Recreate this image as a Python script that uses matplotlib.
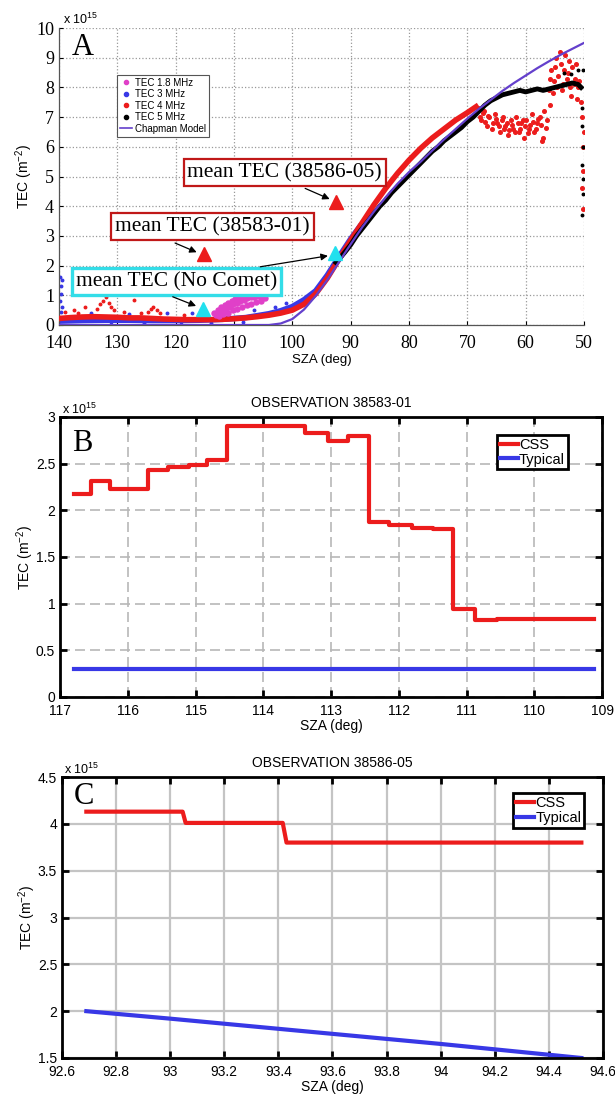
import matplotlib
matplotlib.use('Agg')
import matplotlib.pyplot as plt
from matplotlib.lines import Line2D
from matplotlib.ticker import FormatStrFormatter

plt.rcParams['font.family'] = ['Liberation Sans', 'DejaVu Sans']
plt.rcParams['mathtext.fontset'] = 'custom'
plt.rcParams['mathtext.rm'] = 'Liberation Sans'
plt.rcParams['mathtext.it'] = 'Liberation Sans:italic'
plt.rcParams['mathtext.bf'] = 'Liberation Sans:bold'

# ---------------- panel A data (TEC in units of 1e15 m^-2) ----------------
chap_sza = [50, 52, 54, 56, 58, 60, 62, 64, 66, 68, 70, 72, 74, 76, 78, 80, 82, 84, 86, 88,
            90, 92, 94, 96, 98, 100, 102, 104, 140]
chap_tec = [9.5, 9.3, 9.1, 8.88, 8.65, 8.4, 8.15, 7.88, 7.58, 7.28, 6.95, 6.6, 6.25, 5.88, 5.5,
            5.15, 4.75, 4.3, 3.82, 3.3, 2.72, 2.12, 1.52, 0.98, 0.52, 0.2, 0.05, 0.0, 0.0]

blue_sza = [140, 136, 132, 128, 124, 120, 116, 112, 108, 104, 102, 100, 98, 96, 94, 92, 90, 88.5]
blue_tec = [0.13, 0.15, 0.16, 0.16, 0.15, 0.15, 0.16, 0.19, 0.25, 0.38, 0.48, 0.62, 0.85, 1.15,
            1.68, 2.3, 2.9, 3.3]
blue_out_sza = [139.8, 139.7, 139.6, 139.8, 139.5, 139.7, 139.4, 134.5, 128.0, 121.5, 117.2,
                111.0, 106.5, 103.0, 101.0, 131.0, 125.5, 119.0, 114.0, 108.5]
blue_out_tec = [1.6, 1.3, 1.05, 0.8, 0.6, 0.45, 1.5, 0.4, 0.38, 0.42, 0.4, 0.45, 0.5, 0.6, 0.75,
                0.05, 0.06, 0.05, 0.07, 0.1]

red_sza = [140, 138, 136, 134, 132, 130, 128, 126, 124, 122, 120, 118, 116, 114, 112, 110, 108,
           106, 104, 102, 100, 98, 96, 94, 92, 90, 88, 86, 84, 82, 80, 78, 76, 74, 72, 70, 68.5]
red_tec = [0.22, 0.25, 0.27, 0.28, 0.27, 0.26, 0.24, 0.24, 0.22, 0.2, 0.19, 0.18, 0.18, 0.18,
           0.19, 0.21, 0.24, 0.28, 0.33, 0.4, 0.5, 0.7, 1.05, 1.58, 2.22, 2.85, 3.45, 4.05, 4.6,
           5.1, 5.55, 5.95, 6.3, 6.6, 6.9, 7.15, 7.35]
red_out_sza = [133.5, 133.0, 132.5, 132.0, 131.5, 131.0, 130.5, 127.2, 124.8, 124.3, 123.8,
               123.2, 122.6, 137.5, 135.6, 128.8, 126.0, 118.5, 139.0, 136.8]
red_out_tec = [0.55, 0.7, 0.8, 0.95, 0.75, 0.6, 0.5, 0.85, 0.45, 0.55, 0.6, 0.5, 0.42, 0.5,
               0.6, 0.45, 0.4, 0.35, 0.45, 0.4]
red_cloud_sza = [68.2, 67.6, 67.1, 66.7, 66.2, 65.8, 65.3, 64.9, 64.4, 63.9, 63.5, 63.0, 62.6,
                 62.1, 61.7, 61.2, 60.8, 60.3, 59.9, 59.4, 59.0, 58.5, 58.1, 57.6, 57.2, 56.8,
                 56.3, 55.9,
                 67.9, 67.3, 66.9, 66.4, 65.6, 65.1, 64.6, 64.1, 63.7, 63.2, 62.8, 62.3, 61.9,
                 61.4, 61.0, 60.5, 60.1, 59.6, 59.2, 58.7, 58.3, 57.9, 57.4, 57.0, 56.5]
red_cloud_tec = [7.3, 6.9, 7.2, 6.7, 7.0, 6.6, 7.1, 6.8, 6.5, 7.0, 6.7, 6.4, 6.9, 6.6, 7.0, 6.5,
                 6.8, 6.3, 6.9, 6.6, 7.1, 6.5, 6.8, 7.0, 6.2, 7.2, 6.9, 7.4,
                 7.0, 7.15, 6.85, 7.05, 6.8, 6.95, 6.7, 6.9, 6.6, 6.8, 6.55, 6.75, 6.5, 6.8,
                 6.6, 6.9, 6.7, 6.45, 6.75, 6.85, 6.6, 6.95, 6.75, 6.3, 6.65]
red_high_sza = [56.0, 55.6, 55.2, 54.8, 54.4, 54.0, 53.6, 53.2, 52.8, 52.4, 52.0, 51.6, 51.2,
                50.8, 50.4, 50.2, 50.1, 50.3, 50.15, 50.05,
                55.8, 55.4, 55.0, 54.6, 54.2, 53.8, 53.4, 53.0, 52.6, 52.2, 51.8, 51.4, 51.0,
                50.6]
red_high_tec = [7.9, 8.6, 8.2, 9.0, 8.4, 8.8, 8.1, 9.1, 8.5, 8.0, 8.7, 8.3, 7.6, 8.2, 7.0, 6.0,
                5.2, 4.6, 3.9, 6.5,
                8.3, 7.8, 8.7, 8.0, 9.2, 7.9, 8.6, 8.3, 8.9, 7.7, 8.1, 8.8, 8.0, 7.5]

mag_sza = [113.4, 112.8, 112.2, 111.6, 111.0, 110.4, 109.8, 109.2, 108.6, 108.0, 107.4, 106.8,
           106.2, 105.6, 105.0,
           113.1, 112.5, 111.9, 111.3, 110.7, 110.1, 109.5, 108.9, 108.3, 107.7, 107.1, 106.5,
           105.9, 105.3, 104.7,
           112.6, 111.8, 111.0, 110.2, 109.4, 108.6, 107.8, 107.0, 106.2, 105.4]
mag_tec = [0.4, 0.5, 0.6, 0.68, 0.75, 0.82, 0.88, 0.95, 1.0, 1.05, 1.08, 1.1, 1.12, 1.1, 1.08,
           0.32, 0.4, 0.48, 0.55, 0.62, 0.7, 0.75, 0.8, 0.85, 0.9, 0.93, 0.95, 0.97, 0.95, 0.9,
           0.3, 0.36, 0.42, 0.5, 0.55, 0.62, 0.68, 0.72, 0.78, 0.8]

black_sza = [92.5, 91, 90, 89, 88, 87, 86, 85, 84, 83, 82, 81, 80, 79, 78, 77, 76, 75, 74, 73,
             72, 71, 70, 69, 68, 67, 66, 65, 64, 63, 62, 61, 60, 59, 58, 57, 56, 55, 54, 53, 52,
             51, 50.5]
black_tec = [2.1, 2.45, 2.7, 3.0, 3.25, 3.5, 3.75, 4.0, 4.2, 4.45, 4.65, 4.85, 5.05, 5.25, 5.45,
             5.65, 5.85, 6.0, 6.2, 6.35, 6.5, 6.65, 6.85, 7.0, 7.2, 7.4, 7.55, 7.65, 7.75, 7.8,
             7.85, 7.9, 7.85, 7.9, 7.95, 7.9, 7.95, 8.0, 8.05, 8.1, 8.15, 8.1, 8.0]
black_out_sza = [50.4, 50.3, 50.2, 50.35, 50.25, 50.1, 50.3, 50.15, 53.5, 52.2, 51.0]
black_out_tec = [7.3, 6.7, 6.0, 5.4, 4.9, 4.4, 3.7, 8.6, 8.5, 8.45, 8.6]

mean_sza = [115.1, 92.5]
mean_css = [2.39, 4.14]
mean_nocomet_sza = [115.3, 92.7]
mean_nocomet = [0.55, 2.42]

# ---------------- panel B data ----------------
b_sza = [116.8, 116.55, 116.26, 115.7, 115.4, 115.1, 114.83, 114.54, 113.38, 113.04, 112.75,
         112.44, 112.14, 111.81, 111.5, 111.2, 110.87, 110.55, 109.12]
b_css = [2.18, 2.31, 2.23, 2.43, 2.46, 2.49, 2.54, 2.90, 2.83, 2.74, 2.80, 1.88, 1.84, 1.81,
         1.80, 0.94, 0.83, 0.84, 0.84]
b_typ_sza = [116.8, 109.12]
b_typ = [0.3, 0.3]

# ---------------- panel C data ----------------
c_sza = [92.69, 93.046, 93.057, 93.416, 93.43, 94.52]
c_css = [4.13, 4.13, 4.01, 4.01, 3.80, 3.80]
c_typ_sza = [92.69, 93.0, 93.48, 94.0, 94.52]
c_typ = [2.0, 1.92, 1.79, 1.65, 1.5]

RED = '#ec1c1c'
BLUE = '#3838e6'
MAG = '#e040c8'
PURPLE = '#6440cc'
SERIF = ['Liberation Serif', 'DejaVu Serif']

fig = plt.figure(figsize=(6.15, 10.95), dpi=100)

# ======================= panel A =======================
ax = fig.add_axes([0.0959, 0.7032, 0.8537, 0.2712])
ax.plot(blue_sza, blue_tec, '-', color=BLUE, lw=4, zorder=2)
ax.plot(blue_out_sza, blue_out_tec, 'o', color=BLUE, ms=1.8, zorder=2)
ax.plot(red_sza, red_tec, '-', color=RED, lw=4, zorder=3)
ax.plot(red_out_sza, red_out_tec, 'o', color=RED, ms=1.8, zorder=3)
ax.plot(red_cloud_sza, red_cloud_tec, 'o', color=RED, ms=2.6, zorder=3)
ax.plot(red_high_sza, red_high_tec, 'o', color=RED, ms=2.6, zorder=3)
ax.plot(mag_sza, mag_tec, 'o', color=MAG, ms=3.6, zorder=4)
ax.plot(black_sza, black_tec, '-', color='black', lw=3.5, zorder=4)
ax.plot(black_out_sza, black_out_tec, 'o', color='black', ms=1.8, zorder=4)
ax.plot(chap_sza, chap_tec, '-', color=PURPLE, lw=1.6, zorder=5)

ax.plot(mean_sza, mean_css, '^', color=RED, ms=10, zorder=6)
ax.plot(mean_nocomet_sza, mean_nocomet, '^', color='#22e0ee', ms=10, zorder=6)

ax.set_xlim(140, 50)
ax.set_ylim(0, 10)
ax.set_xticks(range(140, 49, -10))
ax.set_yticks(range(0, 11))
ax.grid(True, linestyle=':', color='#999999', lw=0.9)
for s in ['top', 'right']:
    ax.spines[s].set_visible(False)
for s in ['left', 'bottom']:
    ax.spines[s].set_color('#555555')
    ax.spines[s].set_linewidth(0.9)
ax.tick_params(direction='in', length=3, labelsize=13)
ax.tick_params(axis='x', pad=7)
for lab in ax.get_xticklabels() + ax.get_yticklabels():
    lab.set_family(SERIF)
ax.set_xlabel('SZA (deg)', fontsize=9.5, labelpad=2)
ax.set_ylabel('TEC (m$^{-2}$)', fontsize=10, labelpad=1)
ax.text(0.008, 1.005, 'x 10$^{15}$', transform=ax.transAxes, fontsize=9, va='bottom')
ax.text(0.025, 0.936, 'A', transform=ax.transAxes, fontsize=22, family=SERIF, va='center')

handles = [Line2D([], [], ls='none', marker='o', ms=3, color=MAG),
           Line2D([], [], ls='none', marker='o', ms=3, color=BLUE),
           Line2D([], [], ls='none', marker='o', ms=3, color=RED),
           Line2D([], [], ls='none', marker='o', ms=3, color='black'),
           Line2D([], [], color=PURPLE, lw=1.2)]
leg = ax.legend(handles, ['TEC 1.8 MHz', 'TEC 3 MHz', 'TEC 4 MHz', 'TEC 5 MHz', 'Chapman Model'],
                loc='upper left', bbox_to_anchor=(0.11, 0.842), borderaxespad=0, fontsize=7,
                fancybox=False, framealpha=1, edgecolor='#555555', handlelength=1.3,
                handletextpad=0.3, labelspacing=0.15, borderpad=0.3)
leg.get_frame().set_linewidth(0.8)

boxes = [('mean TEC (38586-05)', 101.3, 5.12, '#c01818', 1.6),
         ('mean TEC (38583-01)', 113.7, 3.30, '#c01818', 1.6),
         ('mean TEC (No Comet)', 119.8, 1.45, '#33dde8', 2.4)]
for txt, bx, by, ec, lw in boxes:
    ax.text(bx, by, txt, ha='center', va='center', fontsize=15.5, family=SERIF, zorder=7,
            bbox=dict(boxstyle='square,pad=0.18', fc='white', ec=ec, lw=lw))
arrows = [((97.8, 4.6), (93.6, 4.24)),
          ((120.1, 2.76), (116.4, 2.45)),
          ((120.5, 0.95), (116.5, 0.64)),
          ((105.5, 1.96), (93.9, 2.33))]
for start, end in arrows:
    ax.annotate('', xy=end, xytext=start, zorder=7,
                arrowprops=dict(arrowstyle='-|>', color='black', lw=0.9, mutation_scale=10,
                                shrinkA=0, shrinkB=0))

# ======================= panels B and C =======================
def style_box(a):
    for s in a.spines.values():
        s.set_linewidth(2)
        s.set_color('black')
    a.tick_params(direction='in', length=5, width=2, top=True, right=True, labelsize=10)
    a.tick_params(axis='x', pad=5)
    a.yaxis.set_major_formatter(FormatStrFormatter('%g'))
    a.xaxis.set_major_formatter(FormatStrFormatter('%g'))


axb = fig.add_axes([0.0976, 0.3635, 0.8813, 0.2557])
axb.step(b_sza, b_css, where='post', color=RED, lw=3, label='CSS')
axb.plot(b_typ_sza, b_typ, color=BLUE, lw=3, label='Typical')
axb.set_xlim(117, 109)
axb.set_ylim(0, 3)
axb.set_xticks(range(117, 108, -1))
axb.set_yticks([0, 0.5, 1, 1.5, 2, 2.5, 3])
axb.grid(True, linestyle=(0, (6, 3)), color='#b8b8b8', lw=1.2)
style_box(axb)
axb.set_title('OBSERVATION 38583-01', fontsize=10, pad=7)
axb.set_xlabel('SZA (deg)', fontsize=10, labelpad=1)
axb.set_ylabel('TEC (m$^{-2}$)', fontsize=10, labelpad=0)
axb.text(0.004, 1.0, 'x 10$^{15}$', transform=axb.transAxes, fontsize=9, va='bottom')
axb.text(0.022, 0.907, 'B', transform=axb.transAxes, fontsize=22, family=SERIF, va='center')
lb = axb.legend(loc='upper right', bbox_to_anchor=(0.937, 0.936), borderaxespad=0,
                fontsize=10.5, fancybox=False, framealpha=1, edgecolor='black',
                handlelength=1.2, handletextpad=0.1, labelspacing=0.05, borderpad=0.2)
lb.get_frame().set_linewidth(2)

axc = fig.add_axes([0.1008, 0.0338, 0.8797, 0.2566])
axc.plot(c_sza, c_css, color=RED, lw=3, label='CSS')
axc.plot(c_typ_sza, c_typ, color=BLUE, lw=3, label='Typical')
axc.set_xlim(92.6, 94.6)
axc.set_ylim(1.5, 4.5)
axc.set_xticks([92.6, 92.8, 93.0, 93.2, 93.4, 93.6, 93.8, 94.0, 94.2, 94.4, 94.6])
axc.set_yticks([1.5, 2, 2.5, 3, 3.5, 4, 4.5])
axc.grid(True, linestyle='-', color='#c4c4c4', lw=1.6)
style_box(axc)
axc.set_title('OBSERVATION 38586-05', fontsize=10, pad=7)
axc.set_xlabel('SZA (deg)', fontsize=10, labelpad=1)
axc.set_ylabel('TEC (m$^{-2}$)', fontsize=10, labelpad=0)
axc.text(0.004, 1.0, 'x 10$^{15}$', transform=axc.transAxes, fontsize=9, va='bottom')
axc.text(0.022, 0.929, 'C', transform=axc.transAxes, fontsize=22, family=SERIF, va='center')
lc = axc.legend(loc='upper right', bbox_to_anchor=(0.965, 0.943), borderaxespad=0,
                fontsize=10.5, fancybox=False, framealpha=1, edgecolor='black',
                handlelength=1.2, handletextpad=0.1, labelspacing=0.05, borderpad=0.2)
lc.get_frame().set_linewidth(2)

fig.savefig('out.png', dpi=100)
